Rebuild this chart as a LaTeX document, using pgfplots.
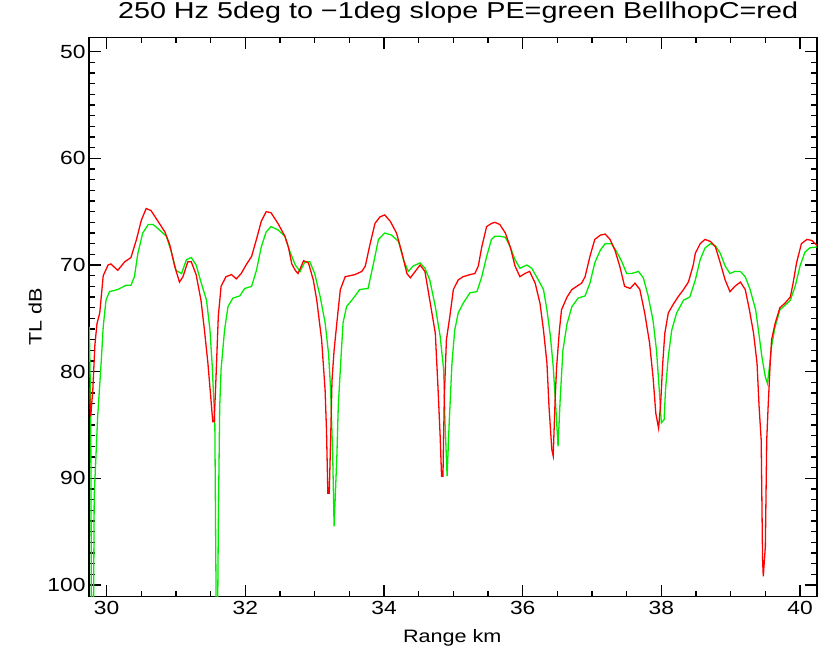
\documentclass[border=0pt]{standalone}
\usepackage{fontspec}
\setmainfont{Liberation Sans}
\newfontfamily\idl[FakeStretch=1.2]{Liberation Sans}
\newfontfamily\idlt[FakeStretch=1.25]{Liberation Sans}
\usepackage{pgfplots}
\pgfplotsset{compat=1.18}
\begin{document}
\begin{tikzpicture}[x=1pt,y=1pt]
\path[use as bounding box] (0,0) rectangle (820,658);
\begin{axis}[
  at={(89pt,61.3pt)}, anchor=south west,
  width=728pt, height=559.4pt, scale only axis,
  xmin=29.745, xmax=40.245, ymin=48.65, ymax=101.1, y dir=reverse,
  xtick={30,32,34,36,38,40}, ytick={50,60,70,80,90,100},
  minor x tick num=3, minor y tick num=9,
  major tick length=12pt, minor tick length=6pt,
  tick align=inside,
  axis line style={line width=1.3pt},
  every tick/.style={black, line width=1.2pt},
  /pgf/number format/assume math mode=true,
  tick label style={font=\idl\fontsize{19}{19}\selectfont},
  xticklabel style={yshift=-1pt},
  label style={font=\idl\fontsize{18}{18}\selectfont},
  xlabel={Range km}, ylabel={TL dB},
  xlabel style={at={(axis description cs:0.499,-0.073)}, anchor=center},
  ylabel style={at={(axis description cs:-0.074,0.5)}, anchor=center, rotate=0},
  title={250 Hz 5deg to −1deg slope PE=green BellhopC=red},
  title style={font=\idlt\fontsize{23}{23}\selectfont, at={(axis description cs:0.507,1.022)}, anchor=base},
  clip=true,
]
\addplot[color={rgb,255:red,0;green,235;blue,0}, line width=1.3pt] coordinates {
(29.75,75.8)(29.77,84.0)(29.78,103)(29.81,103)(29.82,91.7)(29.87,84.2)(29.92,79.2)(29.95,75.8)(29.99,73.3)(30.04,72.5)(30.16,72.3)(30.28,71.9)(30.35,71.9)(30.40,71.1)(30.45,68.9)(30.52,67.0)(30.60,66.2)(30.67,66.2)(30.76,66.7)(30.86,67.3)(30.93,68.7)(31.00,70.5)(31.08,70.8)(31.15,69.5)(31.22,69.3)(31.29,70.0)(31.36,71.6)(31.44,73.3)(31.49,76.1)(31.52,79.2)(31.56,84.8)(31.58,103)(31.60,103)(31.61,94.5)(31.63,83.3)(31.65,79.8)(31.70,76.1)(31.75,73.9)(31.82,73.1)(31.92,72.9)(31.99,72.2)(32.09,72.0)(32.16,70.5)(32.23,68.3)(32.30,66.9)(32.37,66.4)(32.47,66.7)(32.57,67.3)(32.64,68.7)(32.72,70.0)(32.79,70.6)(32.86,69.7)(32.93,69.7)(33.00,70.8)(33.08,73.0)(33.15,75.4)(33.20,78.3)(33.23,81.7)(33.26,87.9)(33.28,94.5)(33.32,87.9)(33.34,83.3)(33.38,78.6)(33.41,75.4)(33.46,73.9)(33.56,73.1)(33.65,72.3)(33.77,72.2)(33.85,69.8)(33.92,67.6)(34.01,67.0)(34.11,67.2)(34.21,67.8)(34.28,69.5)(34.35,70.6)(34.42,70.1)(34.52,69.8)(34.59,70.3)(34.66,71.4)(34.74,73.9)(34.81,76.7)(34.86,79.8)(34.88,84.8)(34.91,89.8)(34.94,84.8)(34.98,79.2)(35.02,76.1)(35.07,74.5)(35.14,73.6)(35.24,72.6)(35.34,72.5)(35.41,71.1)(35.48,69.2)(35.55,67.6)(35.60,67.3)(35.67,67.3)(35.75,67.4)(35.82,68.3)(35.89,69.5)(35.96,70.3)(36.06,70.0)(36.13,70.3)(36.20,71.1)(36.30,72.3)(36.35,74.2)(36.40,76.7)(36.44,79.5)(36.48,83.6)(36.51,87.0)(36.54,82.7)(36.58,78.0)(36.64,75.5)(36.71,73.9)(36.80,73.1)(36.90,72.9)(36.97,71.7)(37.04,69.8)(37.12,68.6)(37.19,68.0)(37.28,68.0)(37.36,68.8)(37.43,69.7)(37.50,70.8)(37.57,70.8)(37.67,70.6)(37.74,71.2)(37.81,72.9)(37.88,75.2)(37.93,78.0)(37.97,81.7)(38.00,84.8)(38.04,84.5)(38.06,81.7)(38.10,78.6)(38.15,76.1)(38.22,74.5)(38.32,73.3)(38.41,73.0)(38.49,71.4)(38.56,69.5)(38.63,68.4)(38.71,68.0)(38.78,68.2)(38.85,68.9)(38.92,70.1)(38.99,70.8)(39.06,70.6)(39.14,70.6)(39.21,71.1)(39.28,72.3)(39.36,74.2)(39.40,76.1)(39.45,78.6)(39.50,80.5)(39.53,81.1)(39.56,79.5)(39.59,77.6)(39.64,75.8)(39.71,74.2)(39.78,73.8)(39.86,73.3)(39.93,72.0)(40.00,70.1)(40.07,68.8)(40.14,68.4)(40.25,68.3)
};
\addplot[color={rgb,255:red,255;green,0;blue,0}, line width=1.3pt] coordinates {
(29.75,81.5)(29.77,84.2)(29.80,81.7)(29.83,77.5)(29.86,75.5)(29.90,74.5)(29.95,71.0)(30.02,70.0)(30.06,69.9)(30.16,70.5)(30.26,69.7)(30.35,69.3)(30.43,67.6)(30.50,65.8)(30.57,64.7)(30.64,64.9)(30.74,65.9)(30.84,66.9)(30.91,68.1)(30.98,70.1)(31.05,71.6)(31.10,71.1)(31.17,69.7)(31.22,69.7)(31.29,70.9)(31.36,73.3)(31.41,76.1)(31.46,79.2)(31.50,82.3)(31.53,84.7)(31.55,84.7)(31.57,81.7)(31.61,74.8)(31.65,72.0)(31.72,71.1)(31.80,70.9)(31.87,71.3)(31.94,70.8)(32.01,70.0)(32.09,69.2)(32.16,67.6)(32.23,65.9)(32.30,65.0)(32.37,65.1)(32.47,66.1)(32.57,67.3)(32.62,68.3)(32.67,69.9)(32.72,70.5)(32.76,70.8)(32.84,69.6)(32.91,69.8)(32.98,71.4)(33.03,73.3)(33.10,77.0)(33.15,81.7)(33.17,85.4)(33.19,91.4)(33.21,91.4)(33.23,86.4)(33.25,80.8)(33.28,78.0)(33.32,75.4)(33.37,72.3)(33.44,71.1)(33.51,71.0)(33.58,70.9)(33.68,70.6)(33.73,70.1)(33.80,68.0)(33.87,66.1)(33.94,65.5)(34.01,65.3)(34.09,65.9)(34.18,67.0)(34.26,68.9)(34.33,70.8)(34.38,71.2)(34.45,70.6)(34.52,70.0)(34.59,70.6)(34.66,73.3)(34.74,76.4)(34.78,81.7)(34.81,86.1)(34.83,89.8)(34.85,89.8)(34.87,82.3)(34.90,77.0)(34.95,74.8)(35.00,72.3)(35.07,71.4)(35.14,71.1)(35.24,70.9)(35.31,70.8)(35.36,70.1)(35.41,68.3)(35.48,66.4)(35.55,66.1)(35.60,66.0)(35.67,66.2)(35.75,67.0)(35.82,68.3)(35.89,70.1)(35.96,71.1)(36.03,70.8)(36.10,70.6)(36.18,71.7)(36.25,73.6)(36.30,76.1)(36.35,79.2)(36.38,83.3)(36.42,87.3)(36.44,87.9)(36.47,82.3)(36.49,79.5)(36.53,76.1)(36.56,74.2)(36.64,73.0)(36.71,72.3)(36.78,72.0)(36.85,71.7)(36.90,71.1)(36.97,69.2)(37.04,67.6)(37.12,67.2)(37.19,67.1)(37.26,67.6)(37.33,68.6)(37.40,70.1)(37.47,72.0)(37.55,72.2)(37.62,71.7)(37.69,72.3)(37.76,74.5)(37.83,77.3)(37.88,80.5)(37.92,83.9)(37.96,85.3)(37.99,83.0)(38.02,79.2)(38.05,76.4)(38.10,74.5)(38.17,73.7)(38.24,73.0)(38.32,72.3)(38.39,71.6)(38.46,70.0)(38.49,68.9)(38.56,68.0)(38.63,67.6)(38.71,67.8)(38.78,68.3)(38.85,69.8)(38.92,71.4)(38.99,72.5)(39.06,72.0)(39.14,71.6)(39.21,72.3)(39.27,74.2)(39.33,76.4)(39.38,79.2)(39.41,83.3)(39.44,86.4)(39.46,97.6)(39.47,99.2)(39.50,96.4)(39.52,86.4)(39.54,83.3)(39.57,79.2)(39.59,77.0)(39.64,75.5)(39.71,74.0)(39.78,73.6)(39.86,73.0)(39.90,71.7)(39.95,69.8)(40.02,68.0)(40.10,67.6)(40.17,67.7)(40.25,68.2)
};
\end{axis}
\end{tikzpicture}
\end{document}
